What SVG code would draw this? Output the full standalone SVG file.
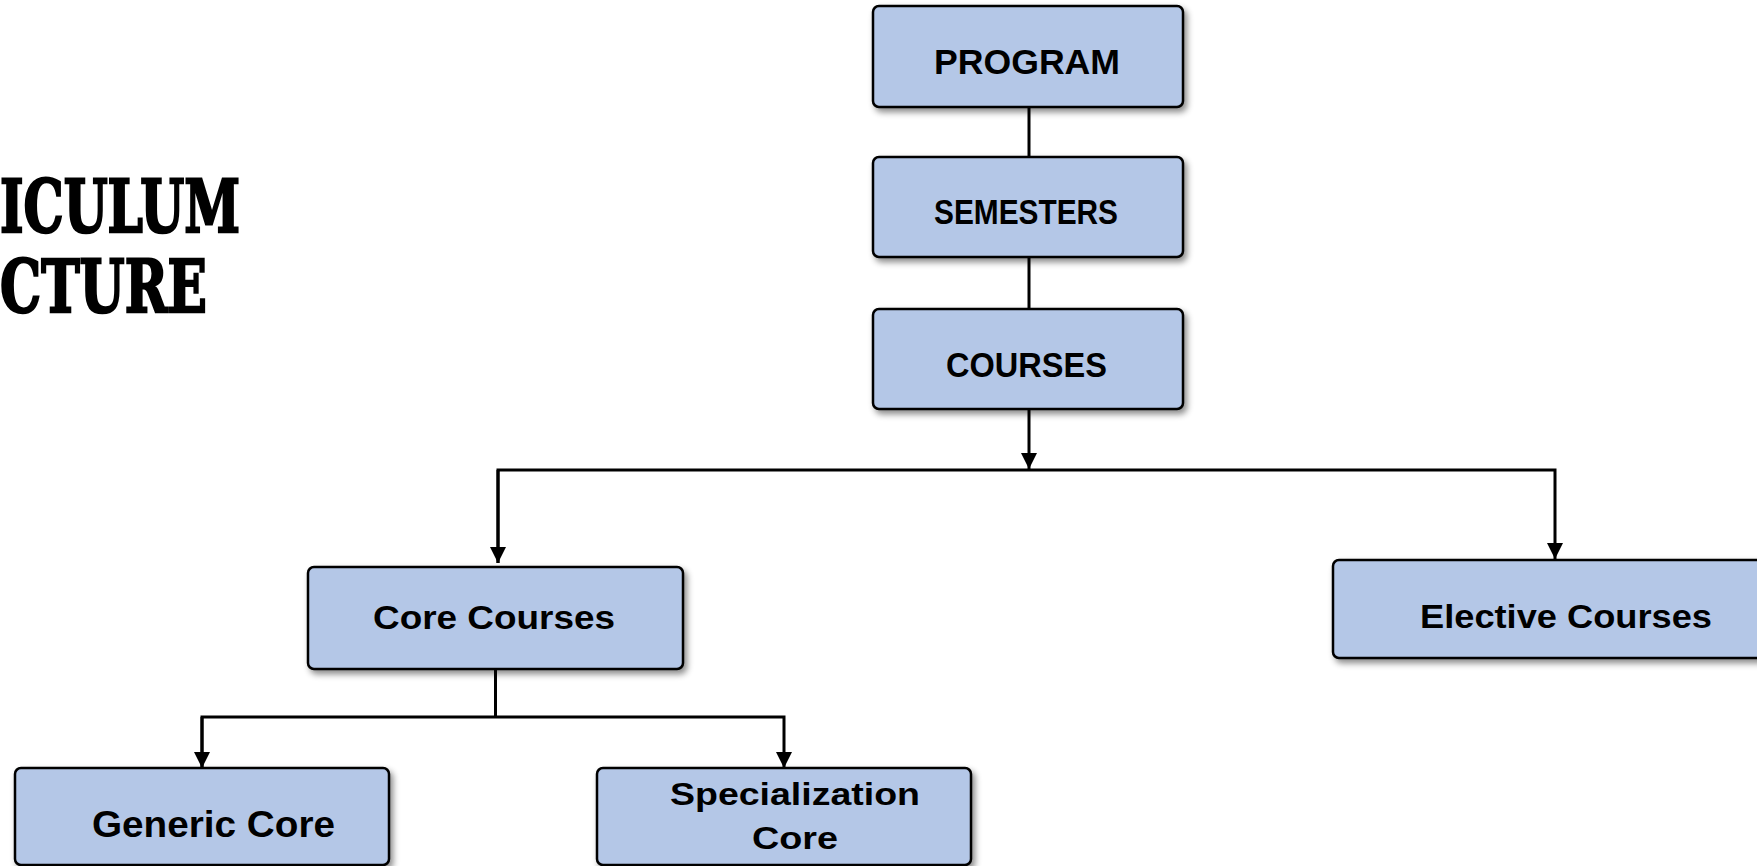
<svg xmlns="http://www.w3.org/2000/svg" width="1757" height="866" viewBox="0 0 1757 866">
  <style>
    .box { fill: #B4C7E7; stroke: #000; stroke-width: 2.5; filter: url(#shadow); }
    .lbl { font-family: "Liberation Sans", Arial, sans-serif; font-weight: bold; fill: #000; text-anchor: middle; }
    .conn { fill: none; stroke: #000; stroke-width: 3; }
    .title { font-family: "DejaVu Serif", "Liberation Serif", serif; font-weight: bold; fill: #000; stroke: #000; stroke-width: 2.5; }
  </style>
  <defs>
    <filter id="shadow" x="-10%" y="-20%" width="130%" height="150%">
      <feDropShadow dx="3" dy="4" stdDeviation="3" flood-color="#000" flood-opacity="0.45"/>
    </filter>
    <marker id="arrow" markerUnits="userSpaceOnUse" markerWidth="16" markerHeight="16" viewBox="0 0 16 16" refX="16" refY="8" orient="auto">
      <path d="M0,0 L16,8 L0,16 z" fill="#000"/>
    </marker>
  </defs>
  <rect width="1757" height="866" fill="#fff"/>

  <g id="title">
    <text class="title" x="0" y="232" font-size="72" textLength="240" lengthAdjust="spacingAndGlyphs">ICULUM</text>
    <text class="title" x="0" y="312" font-size="72" textLength="207" lengthAdjust="spacingAndGlyphs">CTURE</text>
  </g>

  <g id="connectors">
    <line class="conn" x1="1029" y1="107" x2="1029" y2="157"/>
    <line class="conn" x1="1029" y1="257" x2="1029" y2="309"/>
    <line class="conn" x1="1029" y1="409" x2="1029" y2="469" marker-end="url(#arrow)"/>
    <polyline class="conn" points="498,563 498,470 1555,470 1555,559" marker-end="url(#arrow)"/>
    <line class="conn" x1="498" y1="470" x2="498" y2="563" marker-end="url(#arrow)"/>
    <line class="conn" x1="495.5" y1="669" x2="495.5" y2="717"/>
    <polyline class="conn" points="202,768 202,717 784,717 784,768" marker-end="url(#arrow)"/>
    <line class="conn" x1="202" y1="717" x2="202" y2="768" marker-end="url(#arrow)"/>
  </g>

  <g id="program">
    <rect class="box" x="873" y="6" width="310" height="101" rx="6"/>
    <text class="lbl" x="1027" y="74" font-size="35" textLength="186" lengthAdjust="spacingAndGlyphs">PROGRAM</text>
  </g>
  <g id="semesters">
    <rect class="box" x="873" y="157" width="310" height="100" rx="6"/>
    <text class="lbl" x="1026" y="224" font-size="35" textLength="184" lengthAdjust="spacingAndGlyphs">SEMESTERS</text>
  </g>
  <g id="courses">
    <rect class="box" x="873" y="309" width="310" height="100" rx="6"/>
    <text class="lbl" x="1026.5" y="376.5" font-size="35" textLength="161" lengthAdjust="spacingAndGlyphs">COURSES</text>
  </g>
  <g id="core-courses">
    <rect class="box" x="308" y="567" width="375" height="102" rx="6"/>
    <text class="lbl" x="494" y="629" font-size="34" textLength="242" lengthAdjust="spacingAndGlyphs">Core Courses</text>
  </g>
  <g id="elective-courses">
    <rect class="box" x="1333" y="560" width="470" height="98" rx="6"/>
    <text class="lbl" x="1566" y="628" font-size="33" textLength="292" lengthAdjust="spacingAndGlyphs">Elective Courses</text>
  </g>
  <g id="generic-core">
    <rect class="box" x="15" y="768" width="374" height="97" rx="6"/>
    <text class="lbl" x="213.5" y="837" font-size="37" textLength="243" lengthAdjust="spacingAndGlyphs">Generic Core</text>
  </g>
  <g id="specialization-core">
    <rect class="box" x="597" y="768" width="374" height="97" rx="6"/>
    <text class="lbl" x="795" y="805" font-size="32" textLength="250" lengthAdjust="spacingAndGlyphs">Specialization</text>
    <text class="lbl" x="795" y="849" font-size="32" textLength="86" lengthAdjust="spacingAndGlyphs">Core</text>
  </g>
</svg>
